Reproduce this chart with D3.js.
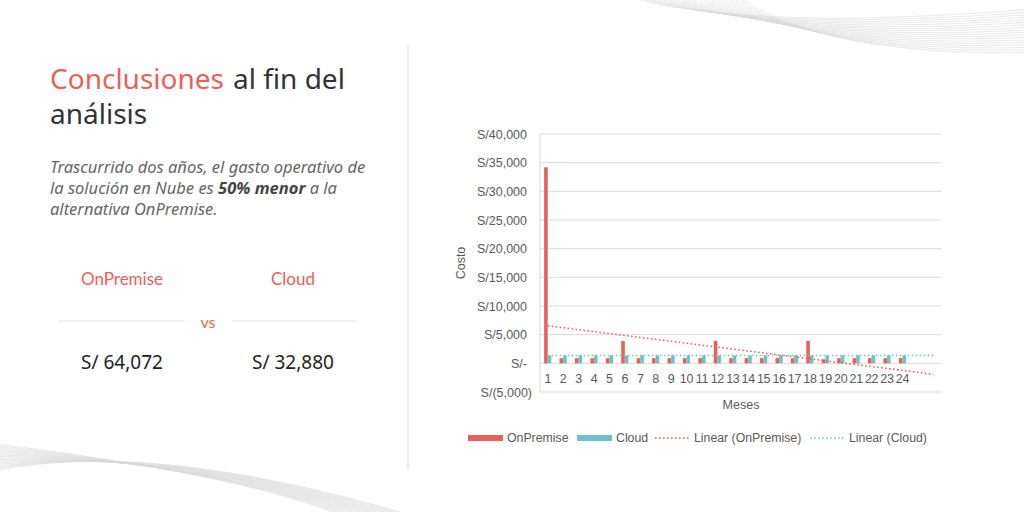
<!DOCTYPE html>
<html><head><meta charset="utf-8">
<script src="https://cdn.jsdelivr.net/npm/d3@7"></script>
<style>body{margin:0;background:#fff}svg{display:block}</style>
</head><body>
<svg id="chart" width="1024" height="512"></svg>
<script>
// chart data
const months = d3.range(1, 27);           // 24 months + 2 empty forecast slots
const onPremise = [34200, 900, 900, 900, 900, 3900, 900, 900, 900, 900, 900, 3900,
  900, 900, 900, 900, 900, 3900, 700, 900, 900, 900, 900, 900];
const cloud = Array(24).fill(1370);
const yTicks = [-5000, 0, 5000, 10000, 15000, 20000, 25000, 30000, 35000, 40000];

const RED = "#e8625a", TEAL = "#72c0c4";
const svg = d3.select("#chart");

// decorative curves
const deco = svg.append("g").attr("fill", "none").attr("stroke", "#d8d8d8").attr("stroke-width", 0.6);
for (let i = 0; i < 18; i++) {
  deco.append("path").attr("d", `M${640 + i * 6},0 Q${760 + i * 4},${30 + i * 1.5} ${1024},${10 + i * 2.5}`);
  deco.append("path").attr("d", `M0,${470 - i * 1.5} Q${150 + i * 5},${440 + i * 2} ${400 - i * 4},512`);
}

// left panel text
const title = svg.append("g").attr("font-family", "Noto Sans").attr("font-size", 28);
title.append("text").attr("x", 50).attr("y", 89).attr("fill", RED).text("Conclusiones");
title.append("text").attr("x", 233).attr("y", 89).attr("fill", "#333").text("al fin del");
title.append("text").attr("x", 50).attr("y", 124).attr("fill", "#333").text("análisis");
const para = svg.append("text").attr("font-family", "Noto Sans").attr("font-style", "italic").attr("font-size", 16.5).attr("fill", "#666");
para.append("tspan").attr("x", 50).attr("y", 173).text("Trascurrido dos años, el gasto operativo de");
para.append("tspan").attr("x", 50).attr("y", 194).text("la solución en Nube es ");
para.append("tspan").attr("font-weight", "bold").attr("fill", "#444").text("50% menor");
para.append("tspan").text(" a la");
para.append("tspan").attr("x", 50).attr("y", 215).text("alternativa OnPremise.");

svg.append("text").attr("x", 122).attr("y", 285).attr("text-anchor", "middle").attr("font-family", "Lato").attr("font-size", 17).attr("fill", RED).text("OnPremise");
svg.append("text").attr("x", 293).attr("y", 285).attr("text-anchor", "middle").attr("font-family", "Lato").attr("font-size", 17).attr("fill", RED).text("Cloud");
svg.append("text").attr("x", 208).attr("y", 328).attr("text-anchor", "middle").attr("font-family", "Lato").attr("font-size", 16).attr("fill", RED).text("vs");
svg.append("line").attr("x1", 58).attr("x2", 185).attr("y1", 321).attr("y2", 321).attr("stroke", "#e6e6e6");
svg.append("line").attr("x1", 232).attr("x2", 356).attr("y1", 321).attr("y2", 321).attr("stroke", "#e6e6e6");
svg.append("text").attr("x", 122).attr("y", 369).attr("text-anchor", "middle").attr("font-family", "Noto Sans").attr("font-size", 19).attr("fill", "#222").text("S/ 64,072");
svg.append("text").attr("x", 293).attr("y", 369).attr("text-anchor", "middle").attr("font-family", "Noto Sans").attr("font-size", 19).attr("fill", "#222").text("S/ 32,880");
svg.append("line").attr("x1", 408).attr("x2", 408).attr("y1", 45).attr("y2", 470).attr("stroke", "#ddd");

// chart
const x = d3.scaleBand().domain(months).range([540, 941]);
const y = d3.scaleLinear().domain([-5000, 40000]).range([392, 134]);
const fmt = v => v === 0 ? "S/-" : v < 0 ? "S/(" + d3.format(",")(-v) + ")" : "S/" + d3.format(",")(v);

const g = svg.append("g").attr("font-family", "Liberation Sans, Arial").attr("fill", "#595959");
g.selectAll(".grid").data(yTicks).join("line").attr("x1", 540).attr("x2", 941)
  .attr("y1", d => y(d)).attr("y2", d => y(d)).attr("stroke", "#d9d9d9").attr("stroke-width", 1);
g.append("line").attr("x1", 540).attr("x2", 540).attr("y1", 134).attr("y2", 392).attr("stroke", "#d9d9d9");
g.selectAll(".yl").data(yTicks).join("text").attr("x", d => d < 0 ? 532 : 527).attr("y", d => y(d) + 4.5)
  .attr("text-anchor", "end").attr("font-size", 12.5).attr("fill", "#595959").text(fmt);
g.selectAll(".xl").data(months.slice(0, 24)).join("text").attr("x", d => x(d) + x.bandwidth() / 2).attr("y", 383)
  .attr("text-anchor", "middle").attr("font-size", 12.5).attr("letter-spacing", -0.3).attr("fill", "#595959").text(d => d);
g.append("text").attr("x", 741).attr("y", 409).attr("text-anchor", "middle").attr("font-size", 12.5).attr("fill", "#595959").text("Meses");
g.append("text").attr("transform", "translate(465,263) rotate(-90)").attr("text-anchor", "middle").attr("font-size", 12.5).attr("fill", "#595959").text("Costo");

const bw = 3.6;
g.selectAll(".op").data(onPremise).join("rect").attr("x", (d, i) => x(i + 1) + x.bandwidth() / 2 - bw)
  .attr("width", bw).attr("y", d => y(d)).attr("height", d => y(0) - y(d)).attr("fill", RED);
g.selectAll(".cl").data(cloud).join("rect").attr("x", (d, i) => x(i + 1) + x.bandwidth() / 2)
  .attr("width", bw).attr("y", d => y(d)).attr("height", d => y(0) - y(d)).attr("fill", TEAL);

// linear trendlines (least squares), forecast 2 periods
function trend(vals) {
  const xs = vals.map((_, i) => i + 1), mx = d3.mean(xs), my = d3.mean(vals);
  const b = d3.sum(xs, (xi, i) => (xi - mx) * (vals[i] - my)) / d3.sum(xs, xi => (xi - mx) ** 2);
  const a = my - b * mx;
  return [1, 26].map(m => [x(m) + x.bandwidth() / 2, y(a + b * m)]);
}
const line = d3.line();
g.append("path").attr("d", line(trend(onPremise))).attr("stroke", RED).attr("stroke-width", 1.6).attr("stroke-dasharray", "1.6,2.4").attr("fill", "none");
g.append("path").attr("d", line(trend(cloud))).attr("stroke", TEAL).attr("stroke-width", 1.6).attr("stroke-dasharray", "1.6,2.4").attr("fill", "none");

// legend
const leg = [
  { t: "OnPremise", c: RED, x: 468, dash: false },
  { t: "Cloud", c: TEAL, x: 577, dash: false },
  { t: "Linear (OnPremise)", c: RED, x: 655, dash: true },
  { t: "Linear (Cloud)", c: TEAL, x: 810, dash: true }
];
leg.forEach(l => {
  if (l.dash) g.append("line").attr("x1", l.x).attr("x2", l.x + 35).attr("y1", 438).attr("y2", 438)
    .attr("stroke", l.c).attr("stroke-width", 1.6).attr("stroke-dasharray", "1.6,2.4");
  else g.append("rect").attr("x", l.x).attr("y", 435).attr("width", 35).attr("height", 6).attr("fill", l.c);
  g.append("text").attr("x", l.x + 39).attr("y", 442).attr("font-size", 12.3).attr("fill", "#595959").text(l.t);
});
</script>
</body></html>
